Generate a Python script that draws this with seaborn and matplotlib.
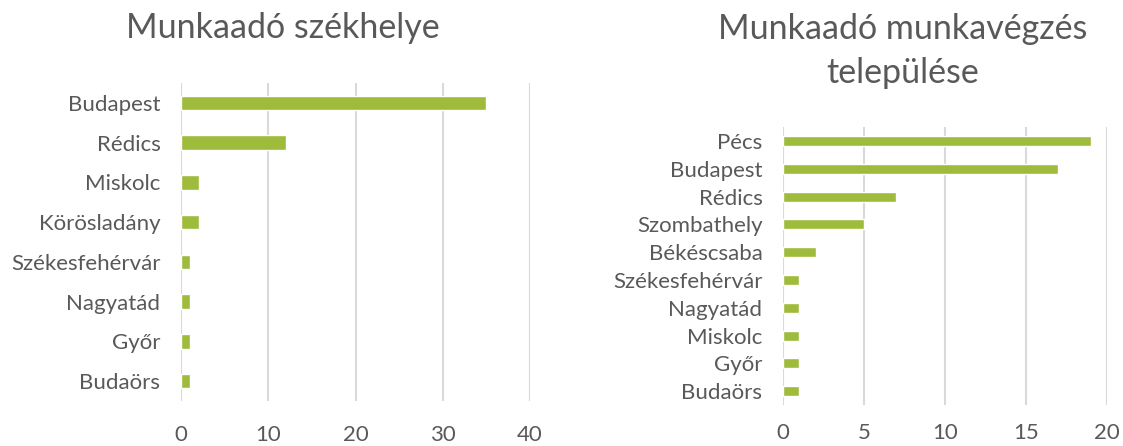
import matplotlib
matplotlib.use("Agg")
import matplotlib.pyplot as plt
import seaborn as sns
import pandas as pd

# data
left_cities = ["Budapest", "Rédics", "Miskolc", "Körösladány",
               "Székesfehérvár", "Nagyatád", "Győr", "Budaörs"]
left_counts = [35, 12, 2, 2, 1, 1, 1, 1]

right_cities = ["Pécs", "Budapest", "Rédics", "Szombathely", "Békéscsaba",
                "Székesfehérvár", "Nagyatád", "Miskolc", "Győr", "Budaörs"]
right_counts = [19, 17, 7, 5, 2, 1, 1, 1, 1, 1]

left_title = "Munkaadó székhelye"
right_title = "Munkaadó munkavégzés\ntelepülése"

BAR = "#9EBB3C"
GRID = "#D9D9D9"
TEXT = "#595959"

sns.set_style("white")
plt.rcParams["font.family"] = ["Lato", "DejaVu Sans"]

fig = plt.figure(figsize=(11.23, 4.46), dpi=100)
ax1 = fig.add_axes([0.1614, 0.1009, 0.3106, 0.7130])
ax2 = fig.add_axes([0.6975, 0.0919, 0.2880, 0.6233])


def draw(ax, cities, counts, xmax, step, xpad):
    df = pd.DataFrame({"city": cities, "n": counts})
    sns.barplot(data=df, x="n", y="city", orient="h", color=BAR,
                saturation=1, width=0.36, ax=ax, zorder=3)
    ax.set_xlim(0, xmax)
    ax.set_ylim(len(cities) - 0.5, -0.5)
    ax.set_xticks(range(0, xmax + 1, step))
    ax.grid(axis="x", color=GRID, linewidth=1.5, zorder=0)
    ax.set_axisbelow(True)
    for s in ax.spines.values():
        s.set_visible(False)
    ax.set_xlabel("")
    ax.set_ylabel("")
    ax.tick_params(axis="y", length=0, pad=15, labelsize=16, labelcolor=TEXT)
    ax.tick_params(axis="x", length=0, pad=xpad, labelsize=16, labelcolor=TEXT)


draw(ax1, left_cities, left_counts, 40, 10, 17)
draw(ax2, right_cities, right_counts, 20, 5, 13)

fig.text(0.252, 0.937, left_title, ha="center", va="center",
         fontsize=24.5, color=TEXT)
fig.text(0.804, 0.885, right_title, ha="center", va="center",
         fontsize=24.5, color=TEXT, linespacing=1.45)

fig.savefig("out.png", dpi=100)
